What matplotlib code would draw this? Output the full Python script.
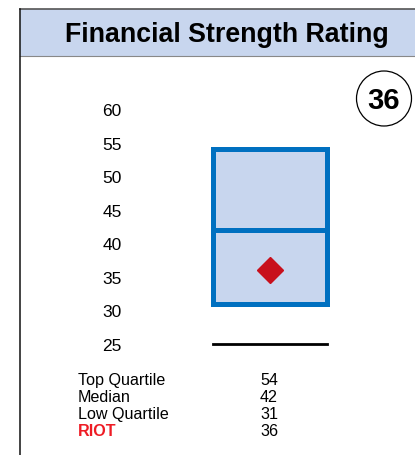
import matplotlib
matplotlib.use("Agg")
import matplotlib.pyplot as plt
from matplotlib.patches import Rectangle, Circle

plt.rcParams['font.family'] = ['Liberation Sans', 'DejaVu Sans']

# data
tick_values = [25, 30, 35, 40, 45, 50, 55, 60]
top_quartile = 54
median = 42
low_quartile = 31
riot_score = 36
floor_value = 25
row_labels = ["Top Quartile", "Median", "Low Quartile", "RIOT"]
row_values = [top_quartile, median, low_quartile, riot_score]

box_blue = "#0070c0"
fill_blue = "#c8d6ee"
riot_red = "#c8101c"

W, H = 415, 456
fig = plt.figure(figsize=(W / 100, H / 100), dpi=100)

# background frame in pixel coords
bg = fig.add_axes([0, 0, 1, 1])
bg.set_xlim(0, W)
bg.set_ylim(H, 0)
bg.axis("off")
bg.add_patch(Rectangle((20, 9.5), W - 20, 47.5, facecolor=fill_blue, edgecolor="none"))
bg.plot([20, W], [9.5, 9.5], color="#555555", lw=1.2)
bg.plot([20, W], [57, 57], color="#888888", lw=0.8)
bg.plot([20, 20], [9.5, H], color="#111111", lw=1.1)
bg.text(227, 35, "Financial Strength Rating", ha="center", va="center",
        fontsize=19.3, fontweight="bold")
bg.add_patch(Circle((384, 99.5), 27.5, facecolor="white", edgecolor="black", lw=0.9))
bg.text(384, 101, str(riot_score), ha="center", va="center",
        fontsize=21, fontweight="bold")

# table under the chart
for i, (lab, val) in enumerate(zip(row_labels, row_values)):
    y = 381 + i * 17
    is_riot = lab == "RIOT"
    bg.text(78, y, lab, ha="left", va="center", fontsize=11.6,
            color="#ee1c25" if is_riot else "black",
            fontweight="bold" if is_riot else "normal")
    bg.text(269, y, str(val), ha="center", va="center", fontsize=11.6)

# main chart
ymin, ymax = 22, 63
ax = fig.add_axes([130 / W, 0.1993, 280 / W, 0.6035])
ax.set_xlim(0, 1)
ax.set_ylim(ymin, ymax)
ax.patch.set_alpha(0)
for s in ax.spines.values():
    s.set_visible(False)
ax.set_xticks([])
ax.set_yticks(tick_values)
ax.tick_params(axis="y", length=0, pad=6, labelsize=12.5)

x0, x1 = 0.295, 0.705
ax.add_patch(Rectangle((x0, low_quartile), x1 - x0, top_quartile - low_quartile,
                       facecolor=fill_blue, edgecolor=box_blue, lw=3.6))
ax.plot([x0, x1], [median, median], color=box_blue, lw=3.6, solid_capstyle="butt")
ax.plot([0.5], [riot_score], marker="D", color=riot_red, markersize=13.5, ls="none")
ax.plot([x0, x1], [floor_value, floor_value], color="black", lw=2.0)

fig.savefig("out.png", dpi=100)
